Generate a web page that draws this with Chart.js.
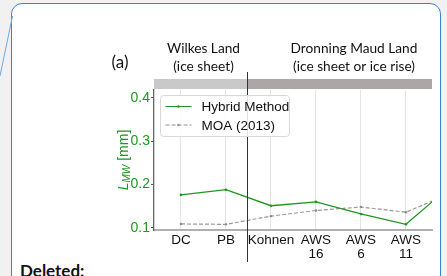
<!DOCTYPE html>
<html>
<head>
<meta charset="utf-8">
<script src="https://cdn.jsdelivr.net/npm/chart.js@4/dist/chart.umd.min.js"></script>
<style>
  html, body { margin: 0; padding: 0; background: #f1f1f1; }
  #wrap { position: relative; width: 447px; height: 276px; overflow: hidden; }
  #box { position: absolute; left: 11px; top: 3px; width: 428px; height: 300px;
         background: #fff; border: 1.5px solid #2f86d6; border-radius: 11px; }
  #tail { position: absolute; left: 0; top: 0; }
  #deleted { position: absolute; left: 20px; top: 260px; font: bold 17px Lato, sans-serif; color: #111; }
  #chart { position: absolute; left: 0; top: 0; }
</style>
</head>
<body>
<div id="wrap">
  <div id="box"></div>
  <svg id="tail" width="20" height="80"><line x1="12.5" y1="16" x2="0" y2="76" stroke="#6aaae6" stroke-width="1"/></svg>
  <div id="deleted">Deleted:</div>
  <canvas id="chart" width="447" height="276"></canvas>
</div>
<script>
// sites along the x axis
const sites = [['DC'], ['PB'], ['Kohnen'], ['AWS', '16'], ['AWS', '6'], ['AWS', '11'], ['next']];
const hybridMethod = [0.176, 0.188, 0.151, 0.160, 0.132, 0.108, 0.197];
const moa2013 = [0.109, 0.108, 0.127, 0.140, 0.148, 0.136, 0.180];
const yTicks = [0.1, 0.2, 0.3, 0.4];
const regionTitles = [['Wilkes Land', '(ice sheet)'], ['Dronning Maud Land', '(ice sheet or ice rise)']];
const seriesNames = ['Hybrid Method', 'MOA (2013)'];

const green = '#1f961f';
const divider = 1.47; // boundary between the two regions, in x units

const decorations = {
    id: 'decorations',
    beforeDatasetsDraw(chart) {
        const ctx = chart.ctx;
        const area = chart.chartArea;
        const xs = chart.scales.x;
        const xDiv = Math.round(xs.getPixelForValue(divider)) + 0.5;
        // region bar above the plot
        ctx.save();
        ctx.fillStyle = '#c9c9c9';
        ctx.fillRect(area.left, area.top - 11, xDiv - area.left, 10);
        ctx.fillStyle = '#aca6a6';
        ctx.fillRect(xDiv, area.top - 11, area.right - xDiv, 10);
        ctx.restore();
    },
    afterDraw(chart) {
        const ctx = chart.ctx;
        const area = chart.chartArea;
        const xs = chart.scales.x;
        const xDiv = Math.round(xs.getPixelForValue(divider)) + 0.5;
        ctx.save();
        // divider line
        ctx.strokeStyle = '#333';
        ctx.lineWidth = 1;
        ctx.beginPath();
        ctx.moveTo(xDiv, 72);
        ctx.lineTo(xDiv, 262);
        ctx.stroke();

        // region titles
        ctx.fillStyle = '#111';
        ctx.font = '13.7px Lato, sans-serif';
        ctx.textAlign = 'center';
        ctx.textBaseline = 'middle';
        [203.5, 354].forEach((cx, i) => {
            ctx.fillText(regionTitles[i][0], cx, 49);
            ctx.fillText(regionTitles[i][1], cx, 67);
        });
        ctx.font = '17px Lato, sans-serif';
        ctx.fillText('(a)', 120, 63);

        // y axis title: L_MW [mm]
        ctx.translate(124, 160);
        ctx.rotate(-Math.PI / 2);
        ctx.fillStyle = green;
        ctx.textAlign = 'left';
        ctx.textBaseline = 'middle';
        const big = '14px "Liberation Sans", Arial, sans-serif';
        const bigIt = 'italic ' + big;
        const small = 'italic 10px "Liberation Sans", Arial, sans-serif';
        ctx.font = bigIt;
        const w1 = ctx.measureText('L').width;
        ctx.font = small;
        const w2 = ctx.measureText('MW').width;
        ctx.font = big;
        const w3 = ctx.measureText(' [mm]').width;
        const x0 = -(w1 + w2 + w3) / 2;
        ctx.font = bigIt;
        ctx.fillText('L', x0, 0);
        ctx.font = small;
        ctx.fillText('MW', x0 + w1, 3);
        ctx.font = big;
        ctx.fillText(' [mm]', x0 + w1 + w2, 0);
        ctx.restore();

        // legend
        ctx.save();
        const lx = area.left + 6.5, ly = area.top + 5.5;
        ctx.fillStyle = 'rgba(255,255,255,0.85)';
        ctx.strokeStyle = '#d8d8d8';
        ctx.lineWidth = 1;
        ctx.beginPath();
        ctx.roundRect(lx, ly, 129, 41, 3);
        ctx.fill();
        ctx.stroke();
        const rows = [
            { color: green, dash: [], y: ly + 11 },
            { color: '#8f8f8f', dash: [4, 2], y: ly + 29.5 }
        ];
        ctx.font = '13.5px "Liberation Sans", Arial, sans-serif';
        ctx.textBaseline = 'middle';
        rows.forEach((r, i) => {
            ctx.strokeStyle = r.color;
            ctx.setLineDash(r.dash);
            ctx.beginPath();
            ctx.moveTo(lx + 5, r.y);
            ctx.lineTo(lx + 31, r.y);
            ctx.stroke();
            ctx.setLineDash([]);
            ctx.fillStyle = r.color;
            ctx.beginPath();
            ctx.arc(lx + 18, r.y, 1.2, 0, Math.PI * 2);
            ctx.fill();
            ctx.fillStyle = '#111';
            ctx.fillText(seriesNames[i], lx + 41, r.y + 1);
        });
        ctx.restore();
    }
};

const ctx = document.getElementById('chart').getContext('2d');
new Chart(ctx, {
    type: 'line',
    data: {
        datasets: [{
            label: seriesNames[0],
            data: hybridMethod.map((v, i) => ({ x: i, y: v })),
            borderColor: green,
            backgroundColor: green,
            borderWidth: 1.3,
            pointRadius: 1.3,
            pointBorderWidth: 0,
            tension: 0
        }, {
            label: seriesNames[1],
            data: moa2013.map((v, i) => ({ x: i, y: v })),
            borderColor: '#999',
            backgroundColor: '#888',
            borderDash: [4, 2],
            borderWidth: 1.2,
            pointRadius: 1.2,
            pointBorderWidth: 0,
            tension: 0
        }]
    },
    options: {
        responsive: false,
        animation: false,
        layout: { padding: { left: 0, right: 15, top: 90, bottom: 0 } },
        plugins: { legend: { display: false }, tooltip: { enabled: false } },
        scales: {
            x: {
                type: 'linear',
                min: -0.6,
                max: 5.58,
                afterBuildTicks(scale) {
                    scale.ticks = sites.slice(0, 6).map((s, i) => ({ value: i }));
                },
                afterFit(scale) { scale.height = 46; },
                grid: { color: '#e4e4e4', drawTicks: false },
                border: { color: '#b0b0b0', width: 2 },
                ticks: {
                    color: '#111',
                    padding: 4,
                    maxRotation: 0,
                    autoSkip: false,
                    font: { family: '"Liberation Sans", Arial, sans-serif', size: 13.5, lineHeight: 1.0 },
                    callback: (v) => sites[v]
                }
            },
            y: {
                min: 0.095,
                max: 0.418,
                afterBuildTicks(scale) {
                    scale.ticks = yTicks.map(v => ({ value: v }));
                },
                afterFit(scale) { scale.width = 154; },
                grid: { display: true, drawOnChartArea: false, tickLength: 3, color: '#555' },
                border: { color: '#666', width: 1.3 },
                ticks: {
                    color: green,
                    padding: 1,
                    font: { family: '"Liberation Sans", Arial, sans-serif', size: 14 },
                    callback: (v) => v.toFixed(1)
                }
            }
        }
    },
    plugins: [decorations]
});
</script>
</body>
</html>
